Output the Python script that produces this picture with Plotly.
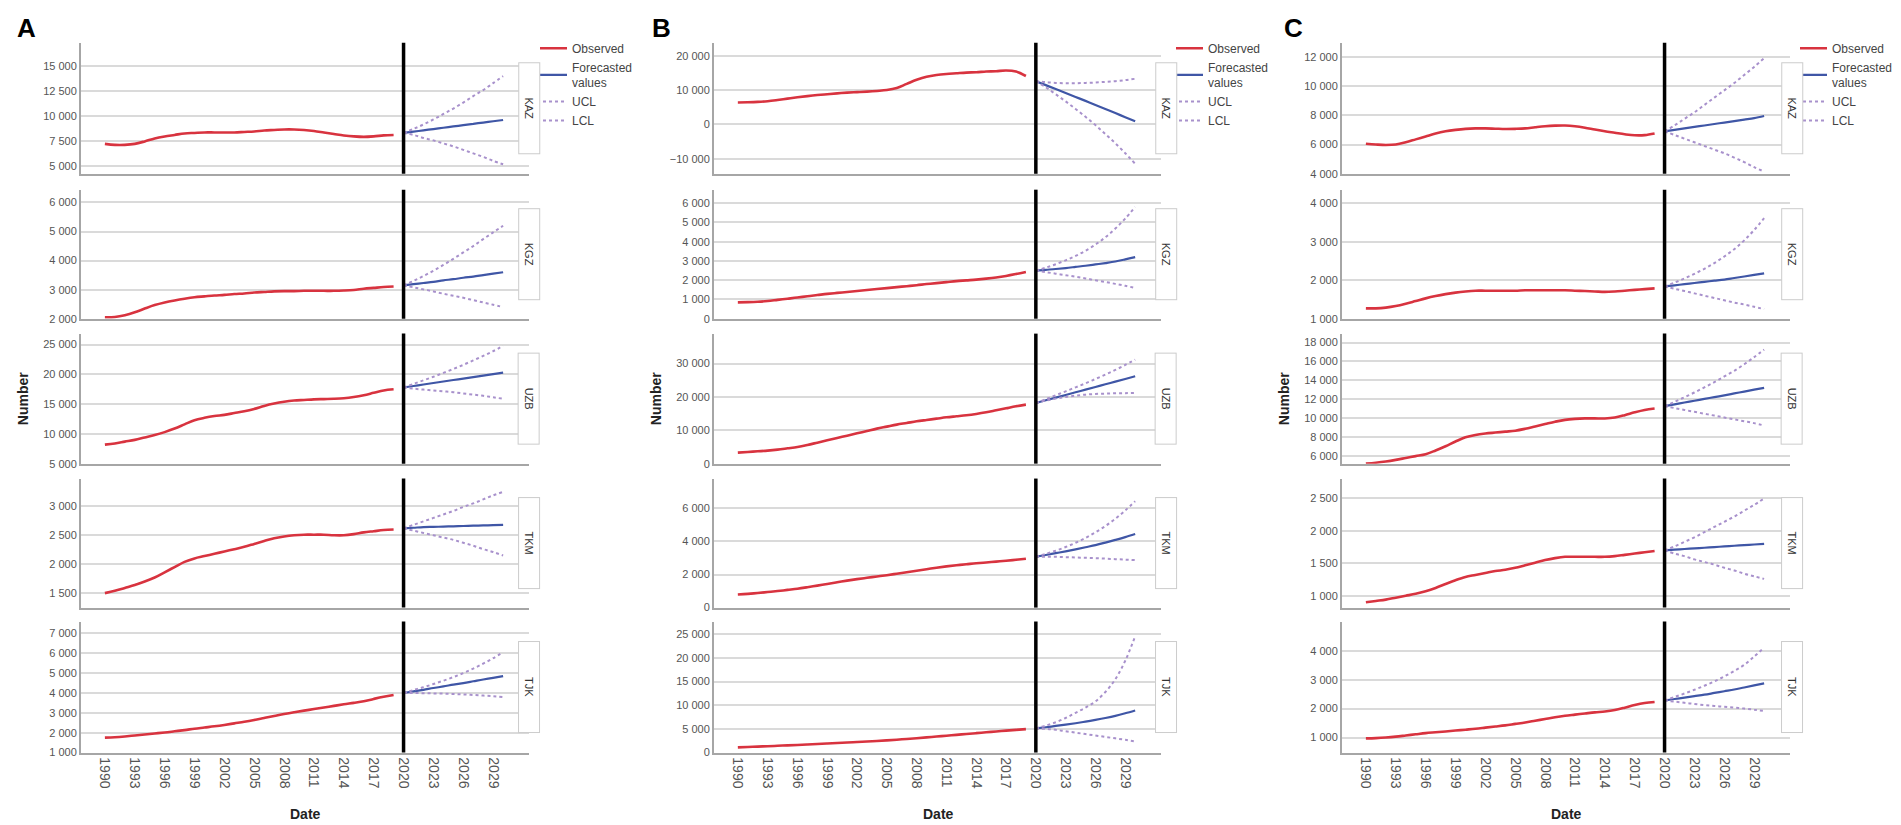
import plotly.graph_objects as go

W, H = 1901, 825

PANELS = ["A", "B", "C"]
COUNTRIES = ["KAZ", "KGZ", "UZB", "TKM", "TJK"]
OBS_YEARS = list(range(1990, 2020))
FC_YEARS = list(range(2020, 2031))
YEAR_TICKS = [1990, 1993, 1996, 1999, 2002, 2005, 2008, 2011, 2014, 2017, 2020, 2023, 2026, 2029]

# ---- panel A ----
A_KAZ_OBS = [7200, 7100, 7100, 7200, 7450, 7750, 7950, 8100, 8250, 8300, 8350, 8350, 8350, 8350, 8400,
             8450, 8550, 8600, 8650, 8650, 8600, 8500, 8350, 8200, 8050, 7950, 7900, 7950, 8050, 8100]
A_KAZ_FC = [8300, 8430, 8560, 8690, 8820, 8950, 9080, 9210, 9340, 9470, 9600]
A_KAZ_UCL = [8300, 8700, 9150, 9650, 10200, 10750, 11350, 12000, 12600, 13300, 14000]
A_KAZ_LCL = [8300, 8100, 7800, 7550, 7250, 6950, 6600, 6250, 5900, 5500, 5150]

A_KGZ_OBS = [2050, 2060, 2120, 2220, 2350, 2470, 2560, 2630, 2690, 2740, 2770, 2800, 2820, 2850, 2870,
             2900, 2920, 2940, 2950, 2950, 2960, 2960, 2960, 2960, 2970, 2990, 3030, 3060, 3090, 3110]
A_KGZ_FC = [3150, 3190, 3230, 3270, 3320, 3360, 3410, 3450, 3500, 3550, 3600]
A_KGZ_UCL = [3150, 3300, 3470, 3650, 3850, 4060, 4280, 4500, 4740, 4970, 5200]
A_KGZ_LCL = [3150, 3080, 3010, 2940, 2860, 2790, 2720, 2640, 2560, 2480, 2400]

A_UZB_OBS = [8200, 8400, 8700, 9000, 9400, 9800, 10300, 10900, 11600, 12300, 12700, 13000, 13200, 13500, 13800,
             14200, 14700, 15100, 15400, 15600, 15700, 15800, 15850, 15900, 16000, 16200, 16500, 16900, 17300, 17500]
A_UZB_FC = [17800, 18050, 18300, 18550, 18800, 19050, 19300, 19550, 19800, 20050, 20300]
A_UZB_UCL = [17800, 18400, 19000, 19600, 20250, 20900, 21600, 22350, 23100, 23900, 24800]
A_UZB_LCL = [17800, 17600, 17450, 17300, 17150, 17000, 16800, 16600, 16400, 16150, 15900]

A_TKM_OBS = [1500, 1540, 1590, 1640, 1700, 1770, 1860, 1950, 2040, 2100, 2140, 2180, 2220, 2260, 2300,
             2350, 2400, 2450, 2480, 2500, 2510, 2510, 2510, 2500, 2500, 2520, 2550, 2570, 2590, 2600]
A_TKM_FC = [2620, 2630, 2640, 2645, 2650, 2655, 2660, 2665, 2670, 2675, 2680]
A_TKM_UCL = [2620, 2680, 2740, 2800, 2860, 2920, 2990, 3050, 3120, 3190, 3250]
A_TKM_LCL = [2620, 2580, 2540, 2500, 2460, 2420, 2370, 2320, 2260, 2210, 2150]

A_TJK_OBS = [1750, 1770, 1810, 1860, 1910, 1960, 2010, 2070, 2130, 2200, 2260, 2320, 2390, 2470, 2550,
             2640, 2740, 2840, 2940, 3030, 3110, 3190, 3270, 3350, 3430, 3500, 3580, 3700, 3810, 3900]
A_TJK_FC = [4000, 4080, 4160, 4250, 4330, 4420, 4500, 4590, 4680, 4760, 4850]
A_TJK_UCL = [4000, 4150, 4290, 4450, 4620, 4800, 5000, 5230, 5480, 5750, 6050]
A_TJK_LCL = [4000, 4000, 3990, 3980, 3970, 3950, 3930, 3900, 3870, 3840, 3800]

# ---- panel B ----
B_KAZ_OBS = [6400, 6450, 6550, 6750, 7100, 7500, 7900, 8250, 8550, 8800, 9050, 9250, 9400, 9550, 9750,
             10000, 10600, 11800, 13000, 13900, 14400, 14700, 14900, 15100, 15200, 15400, 15500, 15700, 15400, 14100]
B_KAZ_FC = [12600, 11450, 10300, 9150, 8000, 6850, 5650, 4500, 3300, 2100, 900]
B_KAZ_UCL = [12600, 12300, 12100, 12000, 12000, 12100, 12200, 12400, 12600, 12900, 13300]
B_KAZ_LCL = [12600, 10800, 8800, 6700, 4500, 2200, -200, -2800, -5500, -8400, -11500]

B_KGZ_OBS = [850, 860, 880, 920, 980, 1040, 1100, 1170, 1230, 1290, 1340, 1390, 1440, 1490, 1540,
             1590, 1640, 1690, 1740, 1800, 1850, 1900, 1950, 1990, 2030, 2080, 2140, 2220, 2320, 2430]
B_KGZ_FC = [2500, 2540, 2580, 2630, 2690, 2750, 2820, 2890, 2970, 3080, 3200]
B_KGZ_UCL = [2500, 2650, 2830, 3030, 3260, 3530, 3850, 4230, 4680, 5200, 5800]
B_KGZ_LCL = [2500, 2420, 2340, 2260, 2180, 2090, 2000, 1910, 1810, 1710, 1600]

B_UZB_OBS = [3300, 3500, 3700, 3900, 4200, 4600, 5000, 5600, 6300, 7000, 7700, 8400, 9100, 9800, 10500,
             11100, 11700, 12200, 12700, 13100, 13500, 13900, 14200, 14500, 14900, 15400, 16000, 16600, 17200, 17700]
B_UZB_FC = [18200, 19000, 19800, 20600, 21400, 22200, 23000, 23800, 24600, 25400, 26200]
B_UZB_UCL = [18200, 19300, 20500, 21700, 22900, 24100, 25400, 26700, 28100, 29600, 31200]
B_UZB_LCL = [18200, 18900, 19500, 20000, 20400, 20700, 20900, 21000, 21100, 21150, 21200]

B_TKM_OBS = [790, 830, 880, 940, 1000, 1070, 1140, 1230, 1330, 1430, 1530, 1630, 1720, 1800, 1880,
             1960, 2050, 2140, 2230, 2320, 2410, 2490, 2560, 2620, 2680, 2730, 2780, 2830, 2890, 2950]
B_TKM_FC = [3080, 3180, 3290, 3400, 3520, 3650, 3780, 3930, 4090, 4260, 4450]
B_TKM_UCL = [3080, 3250, 3440, 3660, 3920, 4210, 4550, 4930, 5370, 5870, 6430]
B_TKM_LCL = [3080, 3080, 3070, 3050, 3030, 3010, 2990, 2960, 2930, 2900, 2870]

B_TJK_OBS = [1100, 1180, 1260, 1340, 1430, 1520, 1610, 1710, 1810, 1910, 2010, 2110, 2220, 2330, 2450,
             2580, 2720, 2870, 3030, 3200, 3380, 3560, 3740, 3920, 4100, 4280, 4460, 4630, 4800, 4950]
B_TJK_FC = [5100, 5350, 5620, 5900, 6200, 6530, 6900, 7300, 7750, 8300, 8900]
B_TJK_UCL = [5100, 5700, 6400, 7300, 8400, 9500, 10800, 12800, 15500, 19400, 24600]
B_TJK_LCL = [5100, 5000, 4800, 4500, 4200, 3900, 3600, 3300, 3000, 2700, 2350]

# ---- panel C ----
C_KAZ_OBS = [6050, 6000, 5970, 6000, 6150, 6350, 6550, 6750, 6900, 7000, 7070, 7100, 7100, 7080, 7060,
             7070, 7100, 7180, 7250, 7290, 7300, 7250, 7150, 7020, 6900, 6800, 6700, 6630, 6640, 6750]
C_KAZ_FC = [6900, 7000, 7100, 7200, 7300, 7400, 7500, 7600, 7700, 7800, 7950]
C_KAZ_UCL = [6900, 7300, 7750, 8200, 8700, 9200, 9700, 10200, 10750, 11300, 11900]
C_KAZ_LCL = [6900, 6650, 6400, 6150, 5900, 5650, 5400, 5100, 4800, 4450, 4150]

C_KGZ_OBS = [1270, 1270, 1290, 1330, 1390, 1460, 1530, 1590, 1640, 1680, 1710, 1730, 1730, 1730, 1730,
             1730, 1740, 1740, 1740, 1740, 1740, 1730, 1720, 1710, 1700, 1710, 1730, 1750, 1770, 1790]
C_KGZ_FC = [1840, 1870, 1900, 1930, 1960, 1990, 2020, 2060, 2100, 2140, 2180]
C_KGZ_UCL = [1840, 1940, 2050, 2170, 2300, 2450, 2620, 2810, 3040, 3310, 3620]
C_KGZ_LCL = [1840, 1780, 1720, 1660, 1600, 1540, 1480, 1420, 1370, 1310, 1250]

C_UZB_OBS = [5150, 5250, 5380, 5550, 5750, 5950, 6150, 6550, 7000, 7500, 7950, 8200, 8350, 8450, 8550,
             8650, 8850, 9100, 9350, 9600, 9800, 9900, 9950, 9950, 9950, 10050, 10300, 10600, 10850, 11000]
C_UZB_FC = [11250, 11450, 11640, 11830, 12020, 12210, 12400, 12600, 12800, 13000, 13200]
C_UZB_UCL = [11250, 11700, 12200, 12700, 13250, 13800, 14400, 15000, 15700, 16450, 17250]
C_UZB_LCL = [11250, 11050, 10850, 10650, 10450, 10250, 10050, 9850, 9650, 9450, 9200]

C_TKM_OBS = [900, 920, 940, 970, 1000, 1030, 1070, 1120, 1180, 1240, 1290, 1320, 1350, 1380, 1400,
             1430, 1470, 1510, 1550, 1580, 1600, 1600, 1600, 1600, 1600, 1610, 1630, 1650, 1670, 1690]
C_TKM_FC = [1700, 1710, 1720, 1730, 1740, 1750, 1760, 1770, 1780, 1790, 1800]
C_TKM_UCL = [1700, 1760, 1830, 1900, 1980, 2060, 2140, 2220, 2310, 2400, 2500]
C_TKM_LCL = [1700, 1650, 1610, 1560, 1520, 1480, 1430, 1390, 1340, 1300, 1260]

C_TJK_OBS = [970, 980, 1000, 1030, 1070, 1110, 1150, 1180, 1210, 1240, 1270, 1300, 1340, 1380, 1420,
             1470, 1520, 1580, 1640, 1700, 1750, 1790, 1830, 1870, 1900, 1950, 2030, 2120, 2190, 2230]
C_TJK_FC = [2280, 2330, 2380, 2430, 2480, 2540, 2600, 2660, 2730, 2800, 2870]
C_TJK_UCL = [2280, 2400, 2520, 2650, 2790, 2940, 3110, 3300, 3510, 3800, 4110]
C_TJK_LCL = [2280, 2240, 2200, 2160, 2120, 2090, 2060, 2030, 2000, 1960, 1920]

# y tick values per panel row
A_YTICKS = [[5000, 7500, 10000, 12500, 15000], [2000, 3000, 4000, 5000, 6000],
            [5000, 10000, 15000, 20000, 25000], [1500, 2000, 2500, 3000],
            [1000, 2000, 3000, 4000, 5000, 6000, 7000]]
B_YTICKS = [[-10000, 0, 10000, 20000], [0, 1000, 2000, 3000, 4000, 5000, 6000],
            [0, 10000, 20000, 30000], [0, 2000, 4000, 6000],
            [0, 5000, 10000, 15000, 20000, 25000]]
C_YTICKS = [[4000, 6000, 8000, 10000, 12000], [1000, 2000, 3000, 4000],
            [6000, 8000, 10000, 12000, 14000, 16000, 18000], [1000, 1500, 2000, 2500],
            [1000, 2000, 3000, 4000]]

data = {
    "A": {"KAZ": (A_KAZ_OBS, A_KAZ_FC, A_KAZ_UCL, A_KAZ_LCL), "KGZ": (A_KGZ_OBS, A_KGZ_FC, A_KGZ_UCL, A_KGZ_LCL),
          "UZB": (A_UZB_OBS, A_UZB_FC, A_UZB_UCL, A_UZB_LCL), "TKM": (A_TKM_OBS, A_TKM_FC, A_TKM_UCL, A_TKM_LCL),
          "TJK": (A_TJK_OBS, A_TJK_FC, A_TJK_UCL, A_TJK_LCL)},
    "B": {"KAZ": (B_KAZ_OBS, B_KAZ_FC, B_KAZ_UCL, B_KAZ_LCL), "KGZ": (B_KGZ_OBS, B_KGZ_FC, B_KGZ_UCL, B_KGZ_LCL),
          "UZB": (B_UZB_OBS, B_UZB_FC, B_UZB_UCL, B_UZB_LCL), "TKM": (B_TKM_OBS, B_TKM_FC, B_TKM_UCL, B_TKM_LCL),
          "TJK": (B_TJK_OBS, B_TJK_FC, B_TJK_UCL, B_TJK_LCL)},
    "C": {"KAZ": (C_KAZ_OBS, C_KAZ_FC, C_KAZ_UCL, C_KAZ_LCL), "KGZ": (C_KGZ_OBS, C_KGZ_FC, C_KGZ_UCL, C_KGZ_LCL),
          "UZB": (C_UZB_OBS, C_UZB_FC, C_UZB_UCL, C_UZB_LCL), "TKM": (C_TKM_OBS, C_TKM_FC, C_TKM_UCL, C_TKM_LCL),
          "TJK": (C_TJK_OBS, C_TJK_FC, C_TJK_UCL, C_TJK_LCL)},
}
yticks = {"A": A_YTICKS, "B": B_YTICKS, "C": C_YTICKS}

# layout in pixels
yranges = {
    "A": [[4200, 17350], [2000, 6440], [5000, 26850], [1250, 3480], [1000, 7600]],
    "B": [[-14400, 23800], [0, 6700], [0, 39000], [0, 7800], [0, 27700]],
    "C": [[4000, 12950], [1000, 4360], [5150, 18950], [817, 2806], [480, 5010]],
}
panel_x = {"A": (73, 521), "B": (706, 1153), "C": (1334, 1782)}
row_y = [(35, 167), (183, 313), (328, 459), (474, 604), (618, 750)]
box_x = {"A": 521, "B": 1158, "C": 1784}
letter_x = {"A": 18, "B": 653, "C": 1285}
legend_x = {"A": 532, "B": 1168, "C": 1792}

RED = "#d8333f"
BLUE = "#3f56a6"
PURPLE = "#a891cc"
GRID = "#dadada"
AXIS = "#a6a6a6"
FONT = "Liberation Sans, Arial, sans-serif"

fig = go.Figure()
annotations = []
shapes = []

for p, panel in enumerate(PANELS):
    lg = "legend" if p == 0 else f"legend{p + 1}"
    for r, c in enumerate(COUNTRIES):
        i = p * 5 + r + 1
        xa = f"x{i}" if i > 1 else "x"
        ya = f"y{i}" if i > 1 else "y"
        obs, fc, ucl, lcl = data[panel][c]
        first = r == 0
        fig.add_trace(go.Scatter(x=OBS_YEARS, y=obs, mode="lines", name="Observed",
                                 line=dict(color=RED, width=2.6, shape="spline"),
                                 xaxis=xa, yaxis=ya, legend=lg, showlegend=first))
        fig.add_trace(go.Scatter(x=FC_YEARS, y=fc, mode="lines", name="Forecasted<br>values",
                                 line=dict(color=BLUE, width=2.2, shape="spline"),
                                 xaxis=xa, yaxis=ya, legend=lg, showlegend=first))
        fig.add_trace(go.Scatter(x=FC_YEARS, y=ucl, mode="lines", name="UCL",
                                 line=dict(color=PURPLE, width=2, dash="dot", shape="spline"),
                                 xaxis=xa, yaxis=ya, legend=lg, showlegend=first))
        fig.add_trace(go.Scatter(x=FC_YEARS, y=lcl, mode="lines", name="LCL",
                                 line=dict(color=PURPLE, width=2, dash="dot", shape="spline"),
                                 xaxis=xa, yaxis=ya, legend=lg, showlegend=first))

        x0, x1 = panel_x[panel]
        t, b = row_y[r]
        xkey = "xaxis" if i == 1 else f"xaxis{i}"
        ykey = "yaxis" if i == 1 else f"yaxis{i}"
        fig.update_layout({
            xkey: dict(domain=[x0 / W, x1 / W], anchor=ya, range=[1987.6, 2032.6],
                       showgrid=False, zeroline=False, showline=True, linecolor=AXIS, linewidth=2,
                       tickvals=YEAR_TICKS, showticklabels=(r == 4), tickangle=90,
                       tickfont=dict(size=14, color="#555555"), ticks=""),
            ykey: dict(domain=[1 - b / H, 1 - t / H], anchor=xa, range=yranges[panel][r],
                       tickvals=yticks[panel][r], separatethousands=True, exponentformat="none",
                       showgrid=True, gridcolor=GRID, gridwidth=1.5, zeroline=False,
                       showline=True, linecolor=AXIS, linewidth=2, ticks="",
                       tickfont=dict(size=11, color="#555555")),
        })
        shapes.append(dict(type="line", xref=xa, yref=f"{ya} domain", x0=2020, x1=2020, y0=0, y1=1,
                           line=dict(color="black", width=3.5)))
        annotations.append(dict(xref="paper", yref="paper", x=box_x[panel] / W, y=1 - (t + b) / 2 / H,
                                xanchor="center", yanchor="middle",
                                text=c, textangle=90, showarrow=False, bgcolor="white",
                                bordercolor="#cccccc", borderwidth=1, width=88, height=18,
                                font=dict(size=11, color="#333333", family=FONT)))

    px0, px1 = panel_x[panel]
    annotations.append(dict(xref="paper", yref="paper", x=letter_x[panel] / W, y=1 - 20 / H,
                            xanchor="center", yanchor="middle",
                            text=f"<b>{panel}</b>", showarrow=False,
                            font=dict(size=26, color="black", family=FONT)))
    annotations.append(dict(xref="paper", yref="paper", x=(px0 - 58) / W, y=1 - 394 / H,
                            xanchor="center", yanchor="middle",
                            text="<b>Number</b>", textangle=-90, showarrow=False,
                            font=dict(size=14, color="#222222", family=FONT)))
    annotations.append(dict(xref="paper", yref="paper", x=(px0 + 224) / W, y=1 - 812 / H,
                            xanchor="center", yanchor="middle",
                            text="<b>Date</b>", showarrow=False,
                            font=dict(size=14, color="#222222", family=FONT)))

legends = {}
for p, panel in enumerate(PANELS):
    key = "legend" if p == 0 else f"legend{p + 1}"
    legends[key] = dict(x=legend_x[panel] / W, y=1 - 26 / H, xanchor="left", yanchor="top",
                        bgcolor="rgba(0,0,0,0)", font=dict(size=12, color="#444444", family=FONT),
                        tracegroupgap=0, itemwidth=30, traceorder="normal", indentation=-8)

fig.update_layout(
    width=W, height=H,
    margin=dict(l=0, r=0, t=0, b=0),
    paper_bgcolor="white", plot_bgcolor="white",
    font=dict(family=FONT),
    separators=". ",
    shapes=shapes, annotations=annotations,
    **legends,
)

fig.write_html("out.html")
